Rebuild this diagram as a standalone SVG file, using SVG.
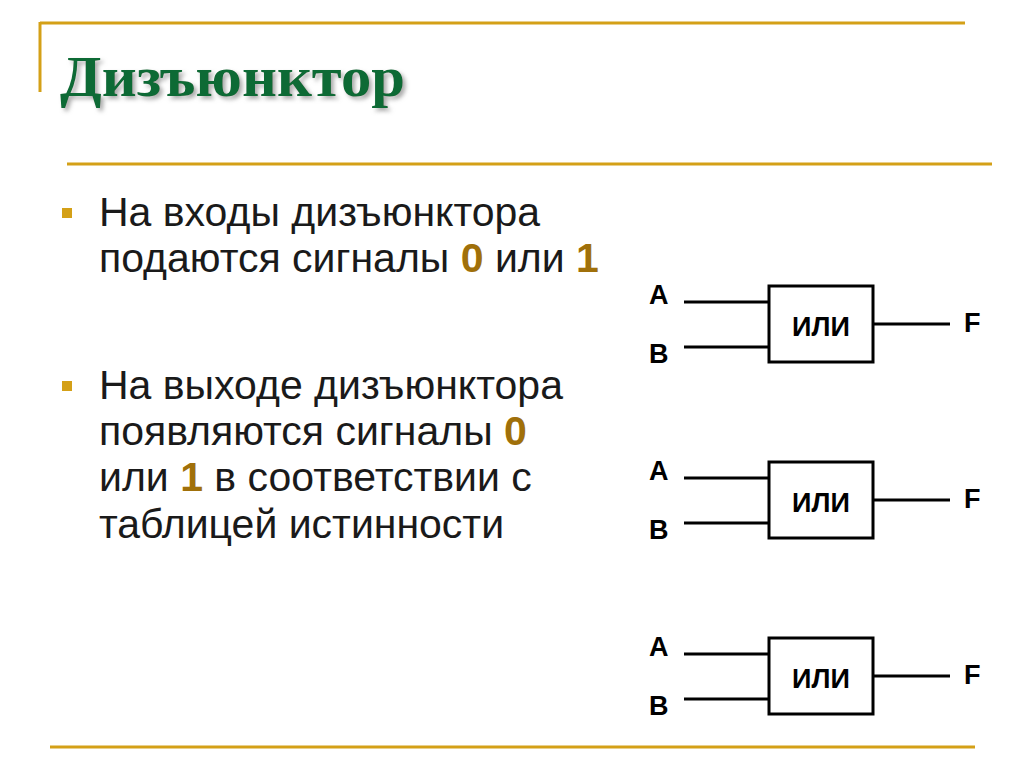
<svg xmlns="http://www.w3.org/2000/svg" width="1024" height="767" viewBox="0 0 1024 767">
<defs>
<style>
.gl{stroke:#d4a017;stroke-width:3}
.t{font-family:"Liberation Sans",Arial,sans-serif;font-size:41px;fill:#1a1a1a}
.n{fill:#a0700a;font-weight:bold}
.w{stroke:#000;stroke-width:3;fill:none}
.lb{font-family:"Liberation Sans",Arial,sans-serif;font-size:27px;font-weight:bold;fill:#000}
.bul{fill:#d4a017}
</style>
<filter id="sh" x="-5%" y="-5%" width="115%" height="130%"><feDropShadow dx="3" dy="3" stdDeviation="2" flood-color="#888" flood-opacity="0.7"/></filter>
</defs>
<rect width="1024" height="767" fill="#fff"/>
<line class="gl" x1="40" y1="23" x2="965" y2="23"/>
<line class="gl" x1="40" y1="22" x2="40" y2="92"/>
<line class="gl" x1="67" y1="164" x2="992" y2="164"/>
<line class="gl" x1="50" y1="747" x2="975" y2="747"/>
<text x="60" y="96" font-family="'Liberation Serif','Times New Roman',serif" font-size="58" font-weight="bold" fill="#0b6a36" filter="url(#sh)" textLength="345" lengthAdjust="spacingAndGlyphs">Дизъюнктор</text>
<rect class="bul" x="62" y="208" width="10" height="10"/>
<text class="t" x="99" y="226">На входы дизъюнктора</text>
<text class="t" x="99" y="272">подаются сигналы <tspan class="n">0</tspan> или <tspan class="n">1</tspan></text>
<rect class="bul" x="62" y="381" width="10" height="10"/>
<text class="t" x="99" y="399">На выходе дизъюнктора</text>
<text class="t" x="99" y="445">появляются сигналы <tspan class="n">0</tspan></text>
<text class="t" x="99" y="491">или <tspan class="n">1</tspan> в соответствии с</text>
<text class="t" x="99" y="538">таблицей истинности</text>
<g id="connectors">
<path class="w" d="M684 302H769M684 347H769M873 324H950"/>
<path class="w" d="M684 478H769M684 523H769M873 500H950"/>
<path class="w" d="M684 654H769M684 699H769M873 676H950"/>
</g>
<g id="gate1"><rect class="w" x="769" y="286" width="104" height="76"/><text class="lb" x="821" y="336" text-anchor="middle">ИЛИ</text><text class="lb" x="649" y="304">A</text><text class="lb" x="649" y="363">B</text><text class="lb" x="964" y="332">F</text></g>
<g id="gate2"><rect class="w" x="769" y="462" width="104" height="76"/><text class="lb" x="821" y="512" text-anchor="middle">ИЛИ</text><text class="lb" x="649" y="480">A</text><text class="lb" x="649" y="539">B</text><text class="lb" x="964" y="508">F</text></g>
<g id="gate3"><rect class="w" x="769" y="638" width="104" height="76"/><text class="lb" x="821" y="688" text-anchor="middle">ИЛИ</text><text class="lb" x="649" y="656">A</text><text class="lb" x="649" y="715">B</text><text class="lb" x="964" y="684">F</text></g>
</svg>
